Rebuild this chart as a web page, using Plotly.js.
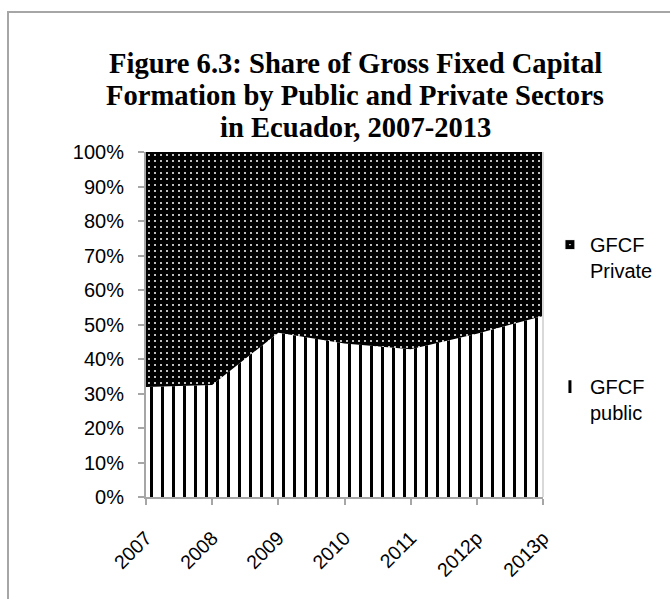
<!DOCTYPE html>
<html>
<head>
<meta charset="utf-8">
<script src="https://cdn.plot.ly/plotly-3.0.1.min.js"></script>
<style>
  html, body { margin: 0; padding: 0; background: #fff; }
  #wrap { position: relative; width: 670px; height: 599px; }
  #chart { width: 670px; height: 599px; }
  #frame { position: absolute; left: 7px; top: 11px; width: 700px; height: 700px;
           border-left: 2px solid #a6a6a6; border-top: 2px solid #a6a6a6;
           pointer-events: none; z-index: 5; }
</style>
</head>
<body>
<div id="wrap">
  <div id="chart"></div>
  <div id="frame"></div>
</div>
<script>
// ---- data ----
const years = ['2007', '2008', '2009', '2010', '2011', '2012p', '2013p'];
const gfcfPublic = [31.9, 32.5, 47.6, 44.5, 42.8, 47.3, 52.5];
const gfcfPrivate = [68.1, 67.5, 52.4, 55.5, 57.2, 52.7, 47.5];
const seriesNames = ['GFCF<br>Private', 'GFCF<br>public'];
const legendDummy = [null];
const titleLines = [
  'Figure 6.3: Share of Gross Fixed Capital',
  'Formation by Public and Private Sectors',
  'in Ecuador, 2007-2013'
];
const yTickVals = [0, 10, 20, 30, 40, 50, 60, 70, 80, 90, 100];
const yTickText = ['0%', '10%', '20%', '30%', '40%', '50%', '60%', '70%', '80%', '90%', '100%'];

const sans = 'Liberation Sans, Arial, sans-serif';
const serif = 'Liberation Serif, Times New Roman, serif';

const traces = [
  {
    type: 'scatter', x: years, y: gfcfPublic, stackgroup: 'one', mode: 'none',
    line: { width: 0 }, fillcolor: '#ffffff',
    fillpattern: { shape: '|', fgcolor: '#000000', bgcolor: '#ffffff', size: 11, solidity: 0.27 },
    showlegend: false, hoverinfo: 'skip'
  },
  {
    type: 'scatter', x: years, y: gfcfPrivate, stackgroup: 'one', mode: 'none',
    line: { width: 0 }, fillcolor: '#000000',
    fillpattern: { shape: '.', fgcolor: '#ffffff', bgcolor: '#000000', size: 6, solidity: 0.09 },
    showlegend: false, hoverinfo: 'skip'
  },
  {
    type: 'scatter', mode: 'markers', x: legendDummy, y: legendDummy, name: seriesNames[0], legendgroup: 'a',
    marker: { symbol: 'square-dot', size: 10, color: '#000000', line: { color: '#ffffff', width: 1 } },
    hoverinfo: 'skip'
  },
  {
    type: 'scatter', mode: 'markers', x: legendDummy, y: legendDummy, name: seriesNames[1], legendgroup: 'b',
    marker: { symbol: 'line-ns', size: 9, color: '#000000', line: { color: '#000000', width: 3 } },
    hoverinfo: 'skip'
  }
];

const titleBaselines = [73, 105, 137];
const titleFont = 28.6;
const annotations = titleLines.map((t, i) => ({
  text: '<b>' + t + '</b>', showarrow: false,
  xref: 'paper', yref: 'paper',
  x: (357 - 146) / 400, xanchor: 'center',
  y: (497 - (titleBaselines[i] - 0.3375 * titleFont)) / 345, yanchor: 'middle',
  font: { family: serif, size: titleFont, color: '#000000' }
}));

const layout = {
  width: 670, height: 599,
  margin: { l: 146, r: 124, t: 152, b: 102 },
  paper_bgcolor: '#ffffff', plot_bgcolor: '#ffffff',
  annotations: annotations,
  xaxis: {
    type: 'category', range: [0, 6], showgrid: false, zeroline: false,
    showline: true, linecolor: '#a6a6a6', linewidth: 2,
    ticks: 'outside', ticklen: 6, tickwidth: 2, tickcolor: '#a6a6a6',
    tickangle: -45, ticklabelstandoff: 14,
    tickfont: { family: sans, size: 19.5, color: '#000000' }
  },
  yaxis: {
    range: [0, 100], showgrid: false, zeroline: false,
    showline: true, linecolor: '#a6a6a6', linewidth: 2,
    ticks: 'outside', ticklen: 6, tickwidth: 2, tickcolor: '#a6a6a6',
    tickvals: yTickVals, ticktext: yTickText, ticklabelstandoff: 10,
    tickfont: { family: sans, size: 20, color: '#000000' }
  },
  shapes: [
    { type: 'line', xref: 'paper', yref: 'paper', x0: 1, x1: 1, y0: 0, y1: 1,
      line: { color: '#d9d9d9', width: 2 }, layer: 'above' }
  ],
  legend: {
    x: 1.0175, xanchor: 'left', y: 0.788, yanchor: 'top',
    font: { family: sans, size: 20, color: '#000000' },
    valign: 'top', tracegroupgap: 87, traceorder: 'grouped',
    bgcolor: 'rgba(0,0,0,0)', borderwidth: 0
  },
  showlegend: true
};

Plotly.newPlot('chart', traces, layout, { staticPlot: true, displayModeBar: false });
</script>
</body>
</html>
